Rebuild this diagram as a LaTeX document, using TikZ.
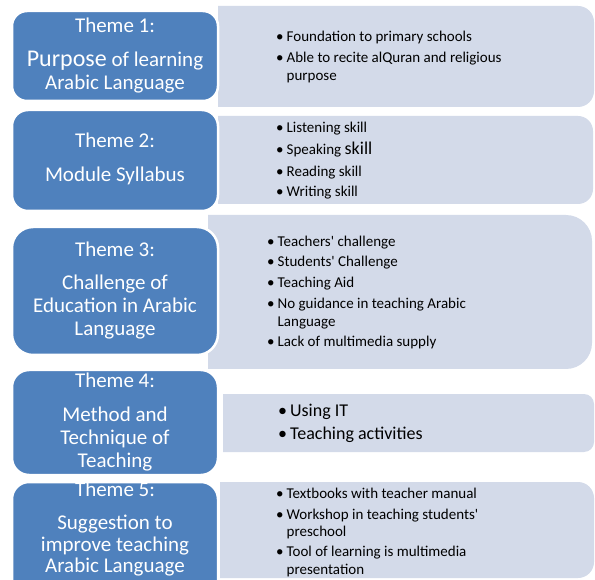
\documentclass[tikz,border=0pt]{standalone}
\usepackage{fontspec}
\setmainfont{Carlito}
\usetikzlibrary{positioning}
\definecolor{themeblue}{HTML}{4F81BD}
\definecolor{lightband}{HTML}{D3DAE9}

\begin{document}
\begin{tikzpicture}[x=1pt,y=-1pt,
    theme/.style={fill=themeblue, draw=white, line width=2.5pt},
    band/.style={fill=lightband},
    ttext/.style={text=white, inner sep=0pt, anchor=base, font=\fontsize{21}{23}\selectfont},
    btext/.style={inner sep=0pt, anchor=base west, font=\fontsize{15}{17.5}\selectfont}]
    \useasboundingbox (0,0) rectangle (595,580);
    \clip (0,0) rectangle (595,580);
    % light bands, right side rounded
    \fill[band] (218,6) rectangle (560,107) [rounded corners=16] (219,6) rectangle (594,107);
    \fill[band] (218,116) rectangle (560,204) [rounded corners=15] (219,116) rectangle (593,204);
    \fill[band] (208,215) rectangle (540,369) [rounded corners=26] (209,215) rectangle (592,369);
    \fill[band] (223,394) rectangle (570,452) [rounded corners=10] (224,394) rectangle (594,452);
    \fill[band] (220,482) rectangle (560,578) [rounded corners=16] (221,482) rectangle (594,578);
    % theme boxes
    \draw[theme, rounded corners=15] (12,11) rectangle (218,101);
    \draw[theme, rounded corners=16] (12,110) rectangle (218,211);
    \draw[theme, rounded corners=21] (12,227) rectangle (218,355);
    \draw[theme, rounded corners=17] (12,370) rectangle (218,475);
    \draw[theme, rounded corners=17] (12,482) rectangle (218,600);
    % theme texts
    \node[ttext] (t1) at (115,33) {\begin{tabular}[t]{@{}c@{}}Theme 1:\\[11pt]{\fontsize{24}{23}\selectfont Purpose} of learning\\Arabic Language\end{tabular}};
    \node[ttext] (t2) at (115,148) {\begin{tabular}[t]{@{}c@{}}Theme 2:\\[11pt]Module Syllabus\end{tabular}};
    \node[ttext] (t3) at (115,257) {\begin{tabular}[t]{@{}c@{}}Theme 3:\\[10pt]Challenge of\\Education in Arabic\\Language\end{tabular}};
    \node[ttext] (t4) at (115,388) {\begin{tabular}[t]{@{}c@{}}Theme 4:\\[11pt]Method and\\Technique of\\Teaching\end{tabular}};
    \node[ttext, font=\fontsize{21}{22}\selectfont] (t5) at (115,496) {\begin{tabular}[t]{@{}c@{}}Theme 5:\\[11pt]Suggestion to\\improve teaching\\Arabic Language\end{tabular}};
    % bullet lists
    \node[btext] (b1) at (276,42) {\begin{tabular}[t]{@{}l@{\hspace{3pt}}l@{}}\textbullet&Foundation to primary schools\\[3.5pt]\textbullet&Able to recite alQuran and religious\\&purpose\end{tabular}};
    \node[btext] (b2) at (276,133) {\begin{tabular}[t]{@{}l@{\hspace{3pt}}l@{}}\textbullet&Listening skill\\[4pt]\textbullet&Speaking {\fontsize{18}{17.5}\selectfont skill}\\[4pt]\textbullet&Reading skill\\[3pt]\textbullet&Writing skill\end{tabular}};
    \node[btext] (b3) at (267,247) {\begin{tabular}[t]{@{}l@{\hspace{3pt}}l@{}}\textbullet&Teachers\textquotesingle{} challenge\\[2.5pt]\textbullet&Students\textquotesingle{} Challenge\\[3.5pt]\textbullet&Teaching Aid\\[3.5pt]\textbullet&No guidance in teaching Arabic\\&Language\\[2.5pt]\textbullet&Lack of multimedia supply\end{tabular}};
    \node[btext, font=\fontsize{18}{24}\selectfont] (b4) at (278,416) {\begin{tabular}[t]{@{}l@{\hspace{3pt}}l@{}}\textbullet&Using IT\\\textbullet&Teaching activities\end{tabular}};
    \node[btext] (b5) at (276,498) {\begin{tabular}[t]{@{}l@{\hspace{3pt}}l@{}}\textbullet&Textbooks with teacher manual\\[3.5pt]\textbullet&Workshop in teaching students\textquotesingle\\&preschool\\[2.5pt]\textbullet&Tool of learning is multimedia\\&presentation\end{tabular}};
\end{tikzpicture}
\end{document}
